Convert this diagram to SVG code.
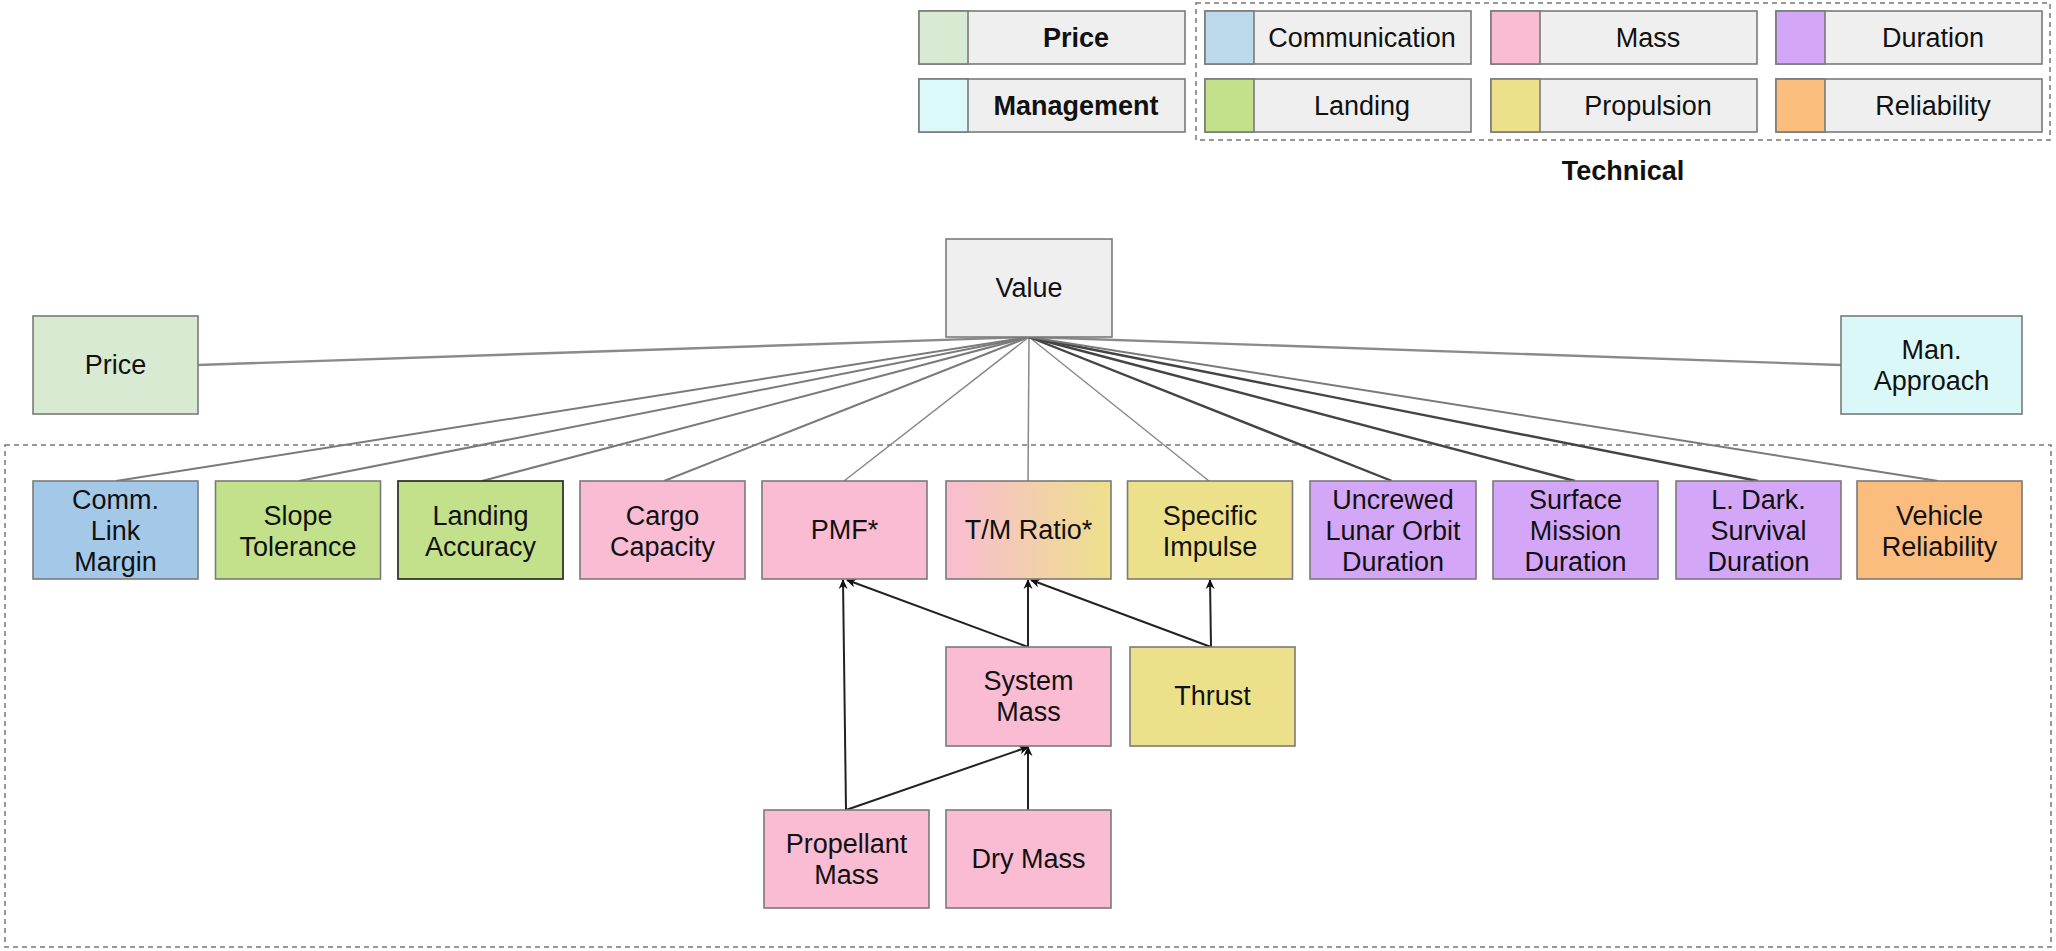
<svg xmlns="http://www.w3.org/2000/svg" width="2056" height="951" viewBox="0 0 2056 951">
<defs>
<linearGradient id="tmGrad" x1="0" y1="0" x2="1" y2="0">
<stop offset="0" stop-color="#f9bcd3"/>
<stop offset="1" stop-color="#ede08a"/>
</linearGradient>
<marker id="arr" viewBox="0 0 10 10" refX="9" refY="5" markerWidth="10" markerHeight="10" markerUnits="userSpaceOnUse" orient="auto">
<path d="M0,0.5 L10,5 L0,9.5 L3,5 z" fill="#111"/>
</marker>
</defs>
<style>
text{font-family:"Liberation Sans",Arial,sans-serif;font-size:27px;fill:#111;text-anchor:middle}
.b{font-weight:bold}
.box{stroke:#7a7a7a;stroke-width:1.6}
.lg{fill:#efefef;stroke:#7a7a7a;stroke-width:1.6}
.dash{fill:none;stroke:#777;stroke-width:1.5;stroke-dasharray:5 4}
.c1{fill:none;stroke:#8a8a8a;stroke-width:2.4}
.c2{fill:none;stroke:#7a7a7a;stroke-width:2}
.c3{fill:none;stroke:#888;stroke-width:1.5}
.c4{fill:none;stroke:#444;stroke-width:2.4}
.ar{fill:none;stroke:#222;stroke-width:2;marker-end:url(#arr)}
.gray{fill:#efefef}.price{fill:#d9ead3}.man{fill:#daf8f7}.comm{fill:#a3c8e8}.land{fill:#c3e18b}
.mass{fill:#f9bcd3}.prop{fill:#ede08a}.dur{fill:#d4a6f7}.rel{fill:#fabd7e}
</style>

<g id="legend">
<g id="legend-price"><rect class="lg" x="919" y="11" width="266" height="53"/><rect class="box" x="919" y="11" width="49" height="53" fill="#d9ead3"/><text class="b" x="1076" y="47">Price</text></g>
<g id="legend-management"><rect class="lg" x="919" y="79" width="266" height="53"/><rect class="box" x="919" y="79" width="49" height="53" fill="#dbf9f9"/><text class="b" x="1076" y="115">Management</text></g>
<rect class="dash" x="1196" y="3" width="854" height="137"/>
<g id="legend-communication"><rect class="lg" x="1205" y="11" width="266" height="53"/><rect class="box" x="1205" y="11" width="49" height="53" fill="#bbd9eb"/><text x="1362" y="47">Communication</text></g>
<g id="legend-landing"><rect class="lg" x="1205" y="79" width="266" height="53"/><rect class="box" x="1205" y="79" width="49" height="53" fill="#c3e18b"/><text x="1362" y="115">Landing</text></g>
<g id="legend-mass"><rect class="lg" x="1491" y="11" width="266" height="53"/><rect class="box" x="1491" y="11" width="49" height="53" fill="#f9bcd3"/><text x="1648" y="47">Mass</text></g>
<g id="legend-propulsion"><rect class="lg" x="1491" y="79" width="266" height="53"/><rect class="box" x="1491" y="79" width="49" height="53" fill="#ede08a"/><text x="1648" y="115">Propulsion</text></g>
<g id="legend-duration"><rect class="lg" x="1776" y="11" width="266" height="53"/><rect class="box" x="1776" y="11" width="49" height="53" fill="#d4a6f7"/><text x="1933" y="47">Duration</text></g>
<g id="legend-reliability"><rect class="lg" x="1776" y="79" width="266" height="53"/><rect class="box" x="1776" y="79" width="49" height="53" fill="#fabd7e"/><text x="1933" y="115">Reliability</text></g>
<text class="b" x="1623" y="180">Technical</text>
</g>

<rect id="technical-group" class="dash" x="5" y="445" width="2046" height="502"/>

<g id="connectors">
<line class="c1" x1="1029" y1="337" x2="198" y2="365"/>
<line class="c1" x1="1029" y1="337" x2="1841" y2="365"/>
<line class="c2" x1="1029" y1="337" x2="116" y2="481"/>
<line class="c2" x1="1029" y1="337" x2="299" y2="481"/>
<line class="c2" x1="1029" y1="337" x2="482" y2="481"/>
<line class="c2" x1="1029" y1="337" x2="664" y2="481"/>
<line class="c3" x1="1029" y1="337" x2="844" y2="481"/>
<line class="c3" x1="1029" y1="337" x2="1028" y2="481"/>
<line class="c3" x1="1029" y1="337" x2="1209" y2="481"/>
<line class="c4" x1="1029" y1="337" x2="1392" y2="481"/>
<line class="c4" x1="1029" y1="337" x2="1575" y2="481"/>
<line class="c4" x1="1029" y1="337" x2="1758" y2="481"/>
<line class="c2" x1="1029" y1="337" x2="1938" y2="481"/>
<line class="ar" x1="846" y1="810" x2="843" y2="580"/>
<line class="ar" x1="846" y1="810" x2="1028" y2="747"/>
<line class="ar" x1="1028" y1="810" x2="1028" y2="747"/>
<line class="ar" x1="1028" y1="647" x2="847" y2="580"/>
<line class="ar" x1="1028" y1="647" x2="1028" y2="580"/>
<line class="ar" x1="1211" y1="647" x2="1031" y2="580"/>
<line class="ar" x1="1211" y1="647" x2="1210" y2="580"/>
</g>

<g id="value"><rect class="box gray" x="946" y="239" width="166" height="98"/><text x="1029" y="297">Value</text></g>
<g id="price"><rect class="box price" x="33" y="316" width="165" height="98"/><text x="115.5" y="374">Price</text></g>
<g id="man-approach"><rect class="box man" x="1841" y="316" width="181" height="98"/><text x="1931.5"><tspan x="1931.5" y="359">Man.</tspan><tspan x="1931.5" y="390">Approach</tspan></text></g>

<g id="comm-link-margin"><rect class="box comm" x="33" y="481" width="165" height="98"/><text><tspan x="115.5" y="509">Comm.</tspan><tspan x="115.5" y="540">Link</tspan><tspan x="115.5" y="571">Margin</tspan></text></g>
<g id="slope-tolerance"><rect class="box land" x="215.5" y="481" width="165" height="98"/><text><tspan x="298" y="524.5">Slope</tspan><tspan x="298" y="555.5">Tolerance</tspan></text></g>
<g id="landing-accuracy"><rect class="land" x="398" y="481" width="165" height="98" stroke="#2f3a2a" stroke-width="1.8"/><text><tspan x="480.5" y="524.5">Landing</tspan><tspan x="480.5" y="555.5">Accuracy</tspan></text></g>
<g id="cargo-capacity"><rect class="box mass" x="580" y="481" width="165" height="98"/><text><tspan x="662.5" y="524.5">Cargo</tspan><tspan x="662.5" y="555.5">Capacity</tspan></text></g>
<g id="pmf"><rect class="box mass" x="762" y="481" width="165" height="98"/><text x="844.5" y="539">PMF*</text></g>
<g id="tm-ratio"><rect class="box" fill="url(#tmGrad)" x="946" y="481" width="165" height="98"/><text x="1028.5" y="539">T/M Ratio*</text></g>
<g id="specific-impulse"><rect class="box prop" x="1127.5" y="481" width="165" height="98"/><text><tspan x="1210" y="524.5">Specific</tspan><tspan x="1210" y="555.5">Impulse</tspan></text></g>
<g id="uncrewed-lunar-orbit-duration"><rect class="box dur" x="1310" y="481" width="166" height="98"/><text><tspan x="1393" y="509">Uncrewed</tspan><tspan x="1393" y="540">Lunar Orbit</tspan><tspan x="1393" y="571">Duration</tspan></text></g>
<g id="surface-mission-duration"><rect class="box dur" x="1493" y="481" width="165" height="98"/><text><tspan x="1575.5" y="509">Surface</tspan><tspan x="1575.5" y="540">Mission</tspan><tspan x="1575.5" y="571">Duration</tspan></text></g>
<g id="l-dark-survival-duration"><rect class="box dur" x="1676" y="481" width="165" height="98"/><text><tspan x="1758.5" y="509">L. Dark.</tspan><tspan x="1758.5" y="540">Survival</tspan><tspan x="1758.5" y="571">Duration</tspan></text></g>
<g id="vehicle-reliability"><rect class="box rel" x="1857" y="481" width="165" height="98"/><text><tspan x="1939.5" y="524.5">Vehicle</tspan><tspan x="1939.5" y="555.5">Reliability</tspan></text></g>

<g id="system-mass"><rect class="box mass" x="946" y="647" width="165" height="99"/><text><tspan x="1028.5" y="690">System</tspan><tspan x="1028.5" y="721">Mass</tspan></text></g>
<g id="thrust"><rect class="box prop" x="1130" y="647" width="165" height="99"/><text x="1212.5" y="705">Thrust</text></g>
<g id="propellant-mass"><rect class="box mass" x="764" y="810" width="165" height="98"/><text><tspan x="846.5" y="853">Propellant</tspan><tspan x="846.5" y="884">Mass</tspan></text></g>
<g id="dry-mass"><rect class="box mass" x="946" y="810" width="165" height="98"/><text x="1028.5" y="868">Dry Mass</text></g>
</svg>
